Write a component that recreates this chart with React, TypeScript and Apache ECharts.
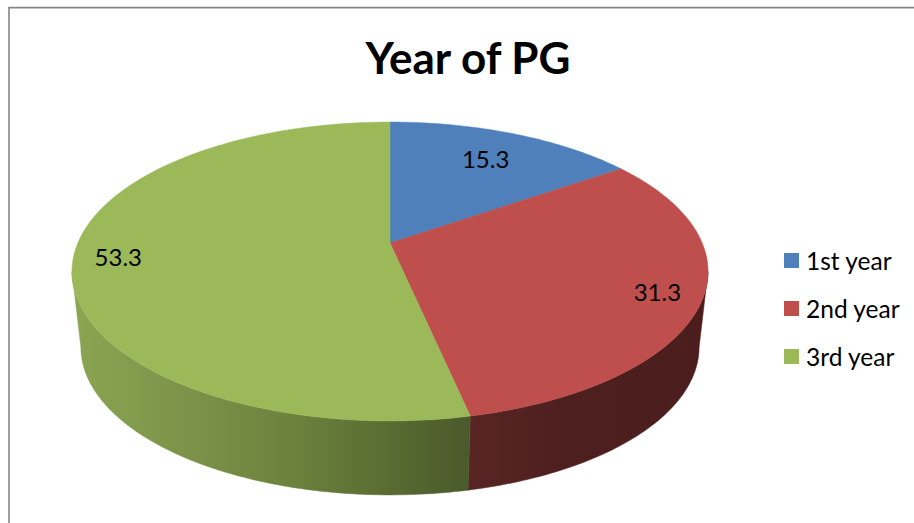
import React, { useEffect, useRef } from "react";
import * as echarts from "echarts";

const categories = ["1st year", "2nd year", "3rd year"];
const shares = [15.3, 31.3, 53.3];
const colors = ["#4f80bc", "#be4f4c", "#9bb959"];
const titleText = "Year of PG";

const FONT = "Lato, Carlito, sans-serif";
const CX = 390, APEX_Y = 243, K = 0.1906, RX = 312.2, RY = 144;
const MID_Y = 271.5, BASE_Y = 347, BASE_SX = 0.972, BASE_SY = 0.99;
const WALL_FROM = 101, WALL_TO = 259;
const LABEL_R = [0.745, 0.865, 0.86];

const total = shares.reduce((a, b) => a + b, 0);
const rad = (d: number) => (d * Math.PI) / 180;

function rim(theta: number, r = 1): number[] {
  const u = r * Math.sin(rad(theta));
  const d = -r * Math.cos(rad(theta));
  const w = 1 - K * d;
  return [CX + (RX * u) / w, APEX_Y + (RY * d) / w];
}
function base(theta: number): number[] {
  const [x, y] = rim(theta);
  return [CX + (x - CX) * BASE_SX, BASE_Y + (y - MID_Y) * BASE_SY];
}
function arc(a: number, b: number, f: (t: number) => number[]): number[][] {
  const n = Math.max(2, Math.ceil(Math.abs(b - a)));
  const out: number[][] = [];
  for (let i = 0; i <= n; i++) out.push(f(a + ((b - a) * i) / n));
  return out;
}

const wallFills = [
  null,
  new echarts.graphic.LinearGradient(470, 0, 708, 0, [
    { offset: 0, color: "#582523" },
    { offset: 0.4, color: "#4e1f1f" },
    { offset: 1, color: "#4b1d1c" },
  ], true),
  new echarts.graphic.LinearGradient(72, 0, 470, 0, [
    { offset: 0, color: "#8ba552" },
    { offset: 0.3, color: "#7b9248" },
    { offset: 0.55, color: "#6d823d" },
    { offset: 0.75, color: "#5c7034" },
    { offset: 1, color: "#4a5a2b" },
  ], true),
];

function makeRenderItem(index: number) {
  return (_params: any, api: any) => {
    const value = api.value(0);
    const before = shares.slice(0, index).reduce((a, b) => a + b, 0);
    const start = (before / total) * 360;
    const end = start + (value / total) * 360;
    const children: any[] = [];
    const wa = Math.max(start, WALL_FROM);
    const wb = Math.min(end, WALL_TO);
    if (wb > wa && wallFills[index]) {
      children.push({
        type: "polygon",
        shape: { points: [...arc(wa, wb, rim), ...arc(wb, wa, base)] },
        style: { fill: wallFills[index], stroke: wallFills[index], lineWidth: 0.5 },
      });
    }
    children.push({
      type: "polygon",
      shape: { points: [[CX, APEX_Y], ...arc(start, end, rim)] },
      style: { fill: colors[index], stroke: colors[index], lineWidth: 0.5 },
    });
    const [lx, ly] = rim((start + end) / 2, LABEL_R[index]);
    children.push({
      type: "text",
      z2: 10,
      style: {
        text: String(value),
        x: lx,
        y: ly,
        fill: "#000000",
        font: `24px ${FONT}`,
        align: "center",
        verticalAlign: "middle",
      },
    });
    return { type: "group", children };
  };
}

export default function App() {
  const ref = useRef<HTMLDivElement>(null);
  useEffect(() => {
    const chart = echarts.init(ref.current!, undefined, { renderer: "svg" });
    chart.setOption({
      animation: false,
      backgroundColor: "#ffffff",
      title: {
        text: titleText,
        left: 463,
        top: 30,
        textAlign: "center",
        textStyle: { fontFamily: FONT, fontSize: 44, fontWeight: "bold", color: "#000000" },
      },
      legend: {
        orient: "vertical",
        left: 784,
        top: 248,
        padding: 0,
        itemWidth: 15,
        itemHeight: 15,
        itemGap: 23,
        icon: "rect",
        data: categories,
        textStyle: { fontFamily: FONT, fontSize: 24.5, color: "#000000", padding: [0, 0, 2, 2] },
      },
      graphic: [
        {
          type: "polyline",
          shape: { points: [[9, 523], [9, 7.6], [914, 7.6]] },
          style: { fill: "none", stroke: "#868686", lineWidth: 1.6 },
        },
      ],
      series: categories.map((name, i) => ({
        type: "custom",
        name,
        coordinateSystem: "none",
        itemStyle: { color: colors[i] },
        renderItem: makeRenderItem(i),
        data: [[shares[i]]],
      })),
    });
    return () => chart.dispose();
  }, []);
  return <div ref={ref} style={{ position: "fixed", left: 0, top: 0, width: 914, height: 523 }} />;
}
